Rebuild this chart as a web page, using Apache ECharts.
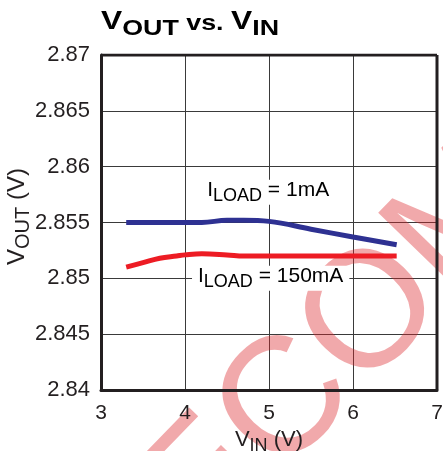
<!DOCTYPE html>
<html lang="en">
<head>
    <meta charset="UTF-8">
    <script src="https://cdn.jsdelivr.net/npm/echarts@6/dist/echarts.min.js"></script>
    <title>VOUT vs. VIN</title>
    <style>body{margin:0;background:#fff;}</style>
</head>
<body>
<div id="main" style="width: 443px;height:451px;"></div>
<script type="text/javascript">
    // data
    var vin = [3.3, 3.5, 3.7, 3.9, 4.0, 4.2, 4.5, 4.7, 5.0, 5.5, 6.0, 6.52];
    var vout1mA = [2.8550, 2.8550, 2.8550, 2.8550, 2.8550, 2.8550, 2.8552, 2.8552, 2.8551, 2.8544, 2.8537, 2.8530];
    var vout150mA = [2.8510, 2.8514, 2.8518, 2.8520, 2.8521, 2.8522, 2.8521, 2.8520, 2.8520, 2.8520, 2.8520, 2.8520];
    var xTicks = [3, 4, 5, 6, 7];
    var yTicks = ['2.84', '2.845', '2.85', '2.855', '2.86', '2.865', '2.87'];
    // label anchors (data coords)
    var label1mA = [4.99, 2.8577];
    var label150mA = [5.02, 2.8500];

    function pairs(xs, ys) {
        return xs.map(function (x, i) { return [x, ys[i]]; });
    }

    var chart = echarts.init(document.getElementById('main'));
    var font = 'Liberation Sans, Arial, sans-serif';
    var ink = '#231f20';

    // big text + lowered subscript (big token is lifted by a bottom padding)
    function subRich(big, small, drop, bold) {
        var w = bold ? 'bold' : 'normal';
        return {
            b: {fontFamily: font, fontWeight: w, fontSize: big, color: ink, verticalAlign: 'bottom', padding: [0, 0, drop, 0]},
            m: {fontFamily: font, fontWeight: w, fontSize: small, color: ink, verticalAlign: 'bottom', padding: [0, 0, drop, 0]},
            s: {fontFamily: font, fontWeight: w, fontSize: small, color: ink, verticalAlign: 'bottom'}
        };
    }

    var option = {
        animation: false,
        grid: {left: 101, right: 6, top: 55, bottom: 61, outerBoundsMode: 'none', containLabel: false},
        xAxis: {
            type: 'value', min: 3, max: 7, interval: 1,
            name: '{b|V}{s|IN}{b| (V)}',
            nameLocation: 'middle', nameGap: 34,
            nameTextStyle: {rich: subRich(22, 18, 4)},
            axisLine: {show: true, lineStyle: {color: ink, width: 3}},
            axisTick: {show: false},
            splitLine: {show: true, lineStyle: {color: '#3a3a3a', width: 1}},
            axisLabel: {
                fontFamily: font, fontSize: 21, color: ink, margin: 13,
                formatter: function (v) { return xTicks.indexOf(v) >= 0 ? String(v) : ''; }
            }
        },
        yAxis: {
            type: 'value', min: 2.84, max: 2.87, interval: 0.005,
            name: '{b|V}{s|OUT}{b| (V)}',
            nameLocation: 'middle', nameGap: 68, nameRotate: 90, nameMoveOverlap: false,
            nameTextStyle: {rich: subRich(24, 20, 4), padding: [0, 0, 0, 12]},
            axisLine: {show: true, lineStyle: {color: ink, width: 3}},
            axisTick: {show: false},
            splitLine: {show: true, lineStyle: {color: '#3a3a3a', width: 1}},
            axisLabel: {
                fontFamily: font, fontSize: 22, color: ink, margin: 11,
                formatter: function (v) {
                    var s = String(+v.toFixed(3));
                    return yTicks.indexOf(s) >= 0 ? s : '';
                }
            }
        },
        series: [
            {
                name: 'ILOAD = 1mA', type: 'line', smooth: 0.4, showSymbol: false,
                lineStyle: {color: '#2e3192', width: 5}, itemStyle: {color: '#2e3192'},
                data: pairs(vin, vout1mA), z: 3
            },
            {
                name: 'ILOAD = 150mA', type: 'line', smooth: 0.4, showSymbol: false,
                lineStyle: {color: '#ed1c24', width: 5}, itemStyle: {color: '#ed1c24'},
                data: pairs(vin, vout150mA), z: 3
            },
            {
                // right border of the frame
                type: 'line', data: [[7, 2.84], [7, 2.87]], showSymbol: false, silent: true,
                lineStyle: {color: ink, width: 3}, z: 4
            },
            {
                // top border of the frame
                type: 'line', data: [[3, 2.87], [7, 2.87]], showSymbol: false, silent: true,
                lineStyle: {color: ink, width: 3}, z: 4
            }
        ]
    };
    chart.setOption(option);

    var titleRich = subRich(26, 22, 5, true);
    var lblRich = subRich(21, 18, 4);
    var p1 = chart.convertToPixel({gridIndex: 0}, label1mA);
    var p2 = chart.convertToPixel({gridIndex: 0}, label150mA);

    chart.setOption({
        graphic: [
            {
                type: 'text', x: 101, y: 9, scaleX: 1.22, z: 10,
                style: {text: '{b|V}{s|OUT}{m| vs. }{b|V}{s|IN}', rich: titleRich, align: 'left', verticalAlign: 'top'}
            },
            {
                type: 'text', x: p1[0], y: p1[1], z: 10,
                style: {text: '{b|I}{s|LOAD}{b| = 1mA}', rich: lblRich, align: 'center', verticalAlign: 'middle',
                    backgroundColor: '#fff', padding: [0, 4]}
            },
            {
                type: 'text', x: p2[0], y: p2[1], z: 10,
                style: {text: '{b|I}{s|LOAD}{b| = 150mA}', rich: lblRich, align: 'center', verticalAlign: 'middle',
                    backgroundColor: '#fff', padding: [0, 6]}
            },
            {
                // watermark, pivoting on the centre of the "O"
                type: 'group', x: 360, y: 315, rotation: 0.80, z: 100, silent: true,
                children: [{
                    type: 'text', x: -285, y: 10,
                    style: {text: 'ECOM', font: '165px ' + font, fill: 'rgba(220,40,45,0.4)',
                        align: 'left', verticalAlign: 'middle'}
                }]
            }
        ]
    });
</script>
</body>
</html>
